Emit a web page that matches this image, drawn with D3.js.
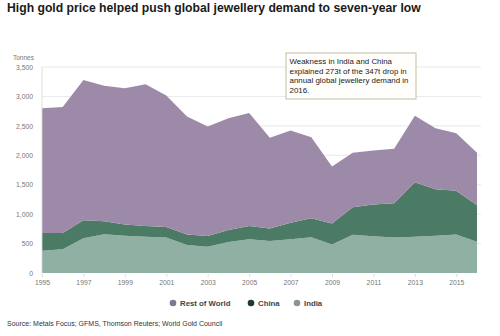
<!DOCTYPE html>
<html>
<head>
<meta charset="utf-8">
<script src="https://cdn.jsdelivr.net/npm/d3@7"></script>
<style>
  html, body { margin: 0; padding: 0; background: #fff; }
  svg { display: block; font-family: "Liberation Sans", Arial, sans-serif; }
</style>
</head>
<body>
<svg id="chart" width="500" height="336"></svg>
<script>
// Annual gold jewellery demand, tonnes
const years = [1995, 1996, 1997, 1998, 1999, 2000, 2001, 2002, 2003, 2004, 2005,
               2006, 2007, 2008, 2009, 2010, 2011, 2012, 2013, 2014, 2015, 2016];
const india = [377, 405, 590, 660, 634, 617, 603, 476, 447, 527, 572,
               545, 572, 607, 485, 652, 623, 603, 617, 632, 655, 532];
const china = [303, 275, 305, 218, 190, 183, 177, 179, 182, 203, 228,
               210, 283, 322, 355, 464, 541, 581, 923, 790, 744, 618];
const restOfWorld = [2120, 2140, 2385, 2302, 2316, 2405, 2235, 2005, 1861, 1900, 1920,
                     1545, 1565, 1376, 970, 929, 916, 926, 1130, 1038, 976, 895];
const yTicks = [0, 500, 1000, 1500, 2000, 2500, 3000, 3500];
const xTicks = [1995, 1997, 1999, 2001, 2003, 2005, 2007, 2009, 2011, 2013, 2015];
const seriesKeys = ["India", "China", "Rest of World"];
const legendKeys = ["Rest of World", "China", "India"];

const fills = { "India": "#8fb0a2", "China": "#4b7b64", "Rest of World": "#9d8aa9" };
const dots  = { "India": "#8a978f", "China": "#1f3b2f", "Rest of World": "#7e7890" };

const svg = d3.select("#chart");

const rows = years.map((y, i) => ({
  year: y, "India": india[i], "China": china[i], "Rest of World": restOfWorld[i]
}));
const stacked = d3.stack().keys(seriesKeys)(rows);

const x = d3.scaleLinear().domain([1995, 2016]).range([42, 477]);
const y = d3.scaleLinear().domain([0, 3500]).range([273, 67]);

// Title
svg.append("text")
  .attr("x", 7).attr("y", 12)
  .attr("font-size", 12.2).attr("font-weight", "bold").attr("fill", "#1a1a1a")
  .text("High gold price helped push global jewellery demand to seven-year low");

// Unit label
svg.append("text")
  .attr("x", 13).attr("y", 60)
  .attr("font-size", 6.5).attr("fill", "#777")
  .text("Tonnes");

// Gridlines
svg.append("g")
  .selectAll("line").data(yTicks.filter(d => d > 0)).join("line")
  .attr("x1", 42).attr("x2", 481)
  .attr("y1", d => y(d)).attr("y2", d => y(d))
  .attr("stroke", "#e3e3e3").attr("stroke-width", 0.8);

// Stacked areas
const area = d3.area()
  .x(d => x(d.data.year))
  .y0(d => y(d[0]))
  .y1(d => y(d[1]));

svg.append("g")
  .selectAll("path").data(stacked).join("path")
  .attr("d", area)
  .attr("fill", d => fills[d.key]);

// Left axis line
svg.append("line")
  .attr("x1", 42).attr("x2", 42).attr("y1", 67).attr("y2", 273)
  .attr("stroke", "#d6d6d6").attr("stroke-width", 0.8);

// Y axis
const yAxis = svg.append("g")
  .attr("transform", "translate(33,0)")
  .call(d3.axisLeft(y).tickValues(yTicks).tickSize(0).tickPadding(0)
    .tickFormat(d3.format(",")));
yAxis.select(".domain").remove();
yAxis.selectAll("text")
  .attr("font-size", 6.8).attr("fill", "#777")
  .attr("font-family", "Liberation Sans, Arial, sans-serif");

// X axis
const xAxis = svg.append("g")
  .attr("transform", "translate(0,274)")
  .call(d3.axisBottom(x).tickValues(xTicks).tickSize(3).tickPadding(3)
    .tickFormat(d3.format("d")));
xAxis.select(".domain").remove();
xAxis.selectAll("line").attr("stroke", "#ddd");
xAxis.selectAll("text")
  .attr("font-size", 6.8).attr("fill", "#777")
  .attr("font-family", "Liberation Sans, Arial, sans-serif");

// Annotation box
const note = svg.append("g");
note.append("rect")
  .attr("x", 286).attr("y", 53).attr("width", 130).attr("height", 46)
  .attr("fill", "#fffefa").attr("stroke", "#b5ac94").attr("stroke-width", 0.8);
const noteLines = [
  "Weakness in India and China",
  "explained 273t of the 347t drop in",
  "annual global jewellery demand in",
  "2016."
];
note.selectAll("text").data(noteLines).join("text")
  .attr("x", 289.5).attr("y", (d, i) => 64 + i * 9.6)
  .attr("font-size", 7.9).attr("fill", "#222")
  .text(d => d);

// Legend
const legendPos = { "Rest of World": 173, "China": 251, "India": 297 };
const legend = svg.append("g");
legendKeys.forEach(k => {
  legend.append("circle")
    .attr("cx", legendPos[k]).attr("cy", 303).attr("r", 3.3)
    .attr("fill", dots[k]);
  legend.append("text")
    .attr("x", legendPos[k] + 7).attr("y", 305.8)
    .attr("font-size", 7.8).attr("font-weight", "bold").attr("fill", "#444")
    .text(k);
});

// Source
svg.append("text")
  .attr("x", 7).attr("y", 326)
  .attr("font-size", 7).attr("fill", "#333")
  .text("Source: Metals Focus; GFMS, Thomson Reuters; World Gold Council");
</script>
</body>
</html>
